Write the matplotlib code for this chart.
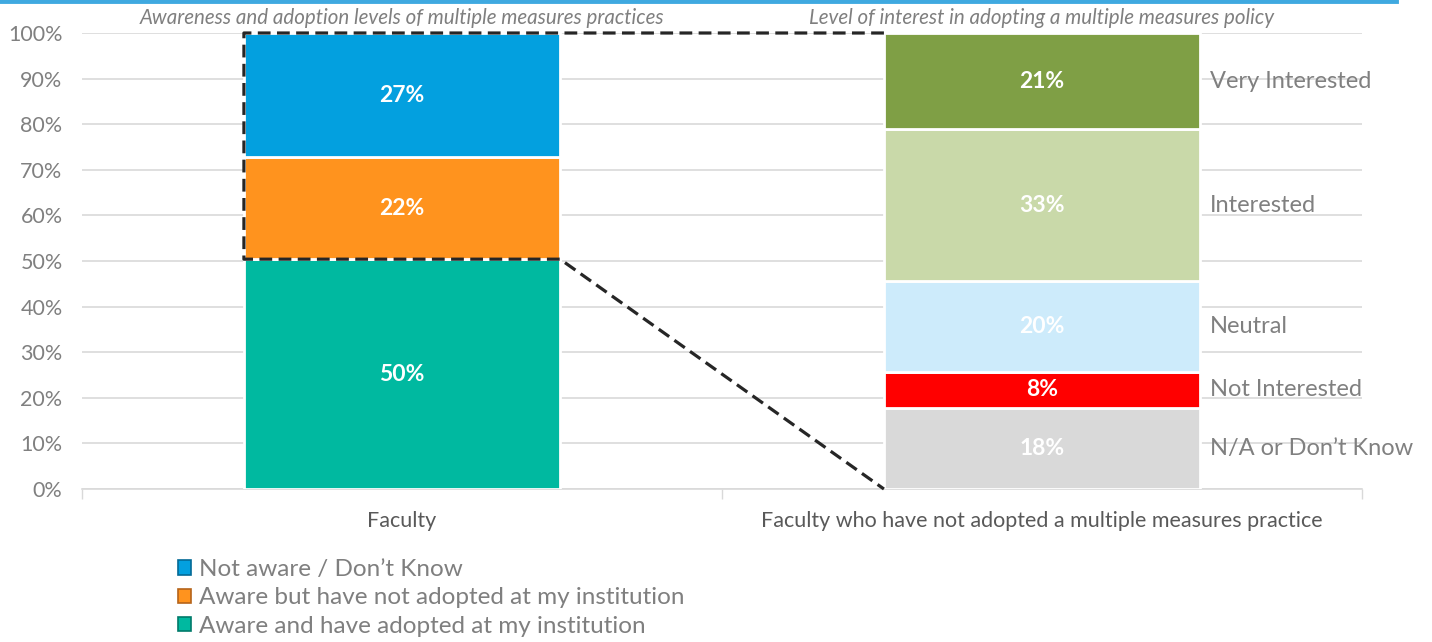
import numpy as np
import matplotlib.pyplot as plt
from matplotlib.patches import Patch
from matplotlib.lines import Line2D

plt.rcParams["font.family"] = ["Lato", "DejaVu Sans"]

# data
categories = ["Faculty", "Faculty who have not adopted a multiple measures practice"]
panel_titles = [
    "Awareness and adoption levels of multiple measures practices",
    "Level of interest in adopting a multiple measures policy",
]

aware_labels = [
    "Aware and have adopted at my institution",
    "Aware but have not adopted at my institution",
    "Not aware / Don\u2019t Know",
]
aware_values = [50.4, 22.3, 27.3]
aware_colors = ["#00B9A0", "#FF931E", "#03A0DF"]
aware_edges = ["#007A6A", "#B5641A", "#036A96"]

interest_labels = ["N/A or Don\u2019t Know", "Not Interested", "Neutral", "Interested", "Very Interested"]
interest_values = [17.8, 7.9, 19.9, 33.3, 21.1]
interest_colors = ["#D9D9D9", "#FF0000", "#CDEBFB", "#C9D9A9", "#7F9F45"]

yticks = np.arange(0, 101, 10)

fig = plt.figure(figsize=(14.32, 6.42), dpi=100)
ax = fig.add_axes([82 / 1432, 153 / 642, 1280 / 1432, 456 / 642])

width = 0.494
gray = "#808080"

# left stacked bar
bottom = 0
for v, c in zip(aware_values, aware_colors):
    ax.bar(0, v, width, bottom=bottom, color=c, edgecolor="white", linewidth=2, zorder=3)
    ax.text(0, bottom + v / 2, f"{v:.0f}%", ha="center", va="center",
            color="white", fontsize=16.5, fontweight="bold", zorder=4)
    bottom += v

# right stacked bar
bottom = 0
for v, c, lab in zip(interest_values, interest_colors, interest_labels):
    ax.bar(1, v, width, bottom=bottom, color=c, edgecolor="white", linewidth=2, zorder=3)
    ax.text(1, bottom + v / 2, f"{v:.0f}%", ha="center", va="center",
            color="white", fontsize=16.5, fontweight="bold", zorder=4)
    ax.text(1 + width / 2 + 0.016, bottom + v / 2, lab, ha="left", va="center",
            color=gray, fontsize=17, zorder=4)
    bottom += v

# dashed zoom outline
adopted = aware_values[0]
top = 100
lx, rx = -width / 2, width / 2
ax.plot([1 - width / 2, lx, lx, rx, 1 - width / 2], [top, top, adopted, adopted, 0],
        color="#262626", linewidth=2.3, linestyle=(0, (4, 2)), zorder=5, clip_on=False)

ax.set_xlim(-0.5, 1.5)
ax.set_ylim(0, 100)
ax.set_yticks(yticks)
ax.set_yticklabels([f"{t}%" for t in yticks])
ax.set_xticks([0, 1])
ax.set_xticklabels(categories)
ax.set_xticks([-0.5, 0.5, 1.5], minor=True)
ax.tick_params(axis="y", length=0, pad=14, labelsize=15.5, labelcolor=gray)
ax.tick_params(axis="x", which="major", length=0, pad=16, labelsize=15.5, labelcolor="#595959")
ax.tick_params(axis="x", which="minor", length=7, color="#D9D9D9", width=1)
ax.grid(axis="y", color="#D9D9D9", linewidth=1.2, zorder=0)
for s in ["left", "right", "top"]:
    ax.spines[s].set_visible(False)
ax.spines["bottom"].set_color("#D9D9D9")
ax.spines["bottom"].set_linewidth(1.2)

for i, t in enumerate(panel_titles):
    ax.text(i, 103.3, t, ha="center", va="center", fontsize=14.8, style="italic",
            color="#7F7F7F", clip_on=False)

# blue rule across the top
fig.add_artist(Line2D([0, 1396 / 1432], [0.998, 0.998], color="#3FA9E0", linewidth=3.5))

handles = [Patch(facecolor=c, edgecolor=e, linewidth=1.2)
           for c, e in zip(aware_colors[::-1], aware_edges[::-1])]
fig.legend(handles, aware_labels[::-1], loc="upper left", bbox_to_anchor=(0.1155, 0.148),
           frameon=False, fontsize=17.5, labelcolor="#7F7F7F", handlelength=0.55,
           handleheight=0.55, handletextpad=0.35, labelspacing=0.3, borderpad=0)

fig.savefig("out.png", dpi=100)
